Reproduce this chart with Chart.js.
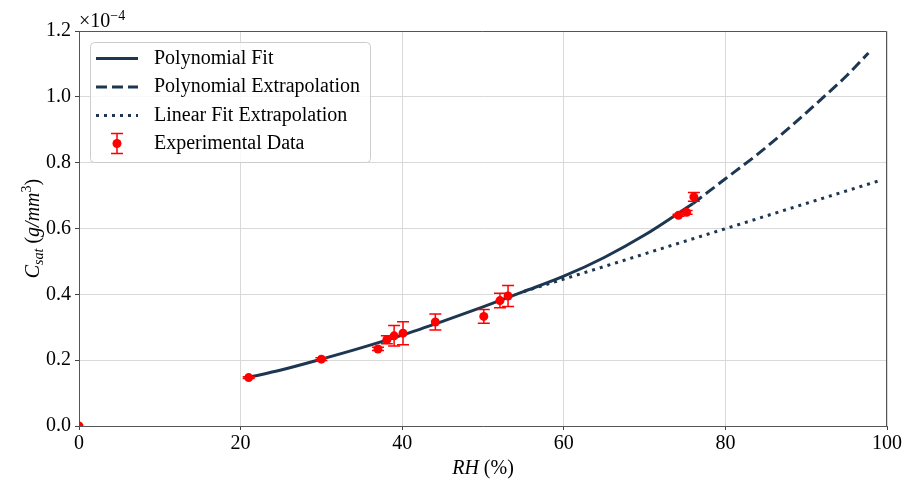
<!DOCTYPE html>
<html>
<head>
<meta charset="utf-8">
<style>
  html, body { margin: 0; padding: 0; background: #fff; }
</style>
<script src="https://cdn.jsdelivr.net/npm/chart.js@4.4.1/dist/chart.umd.min.js"></script>
</head>
<body>
<canvas id="myChart" width="905" height="481"></canvas>
<script>
// values are in units of 1e-4 g/mm^3
const rhFit = [21, 25, 30, 35, 40, 45, 50, 55, 60, 65, 70, 76];
const cFit = [0.148, 0.170, 0.203, 0.238, 0.276, 0.318, 0.362, 0.408, 0.455, 0.512, 0.580, 0.676];

const rhPolyExt = [76, 80, 84, 88, 92, 95, 97.7];
const cPolyExt = [0.676, 0.751, 0.826, 0.908, 0.996, 1.064, 1.133];

const rhLinExt = [55, 99];
const cLinExt = [0.408, 0.745];

const rhExp = [0, 21, 30, 37, 38.1, 39, 40.1, 44.1, 50.1, 52.1, 53.1, 74.2, 75.2, 76.1];
const cExp = [0, 0.147, 0.203, 0.234, 0.262, 0.274, 0.282, 0.316, 0.333, 0.381, 0.395, 0.640, 0.649, 0.696];
const cErr = [0, 0.003, 0.004, 0.005, 0.012, 0.031, 0.035, 0.024, 0.021, 0.022, 0.032, 0.003, 0.006, 0.013];

const xTicks = [0, 20, 40, 60, 80, 100];
const yTicks = [0.0, 0.2, 0.4, 0.6, 0.8, 1.0, 1.2];

const legendLabels = ["Polynomial Fit", "Polynomial Extrapolation", "Linear Fit Extrapolation", "Experimental Data"];

const SERIF = "'Liberation Serif', 'DejaVu Serif', serif";
const NAVY = "#1d3652";
const RED = "#ff0000";

const toPoints = (xs, ys) => xs.map((x, i) => ({ x: x, y: ys[i] }));

function drawErrorBar(ctx, px, pyLo, pyHi, cap) {
  ctx.beginPath();
  ctx.moveTo(px, pyLo);
  ctx.lineTo(px, pyHi);
  ctx.moveTo(px - cap, pyLo);
  ctx.lineTo(px + cap, pyLo);
  ctx.moveTo(px - cap, pyHi);
  ctx.lineTo(px + cap, pyHi);
  ctx.stroke();
}

// error bars go under the red markers but over the fit lines
const errorBars = {
  id: "errorBars",
  beforeDatasetDraw(chart, args) {
    if (args.index !== 3) return;
    const { ctx, chartArea: a } = chart;
    const x = chart.scales.x, y = chart.scales.y;
    ctx.save();
    ctx.beginPath();
    ctx.rect(a.left, a.top, a.right - a.left, a.bottom - a.top);
    ctx.clip();
    ctx.strokeStyle = RED;
    ctx.lineWidth = 1.5;
    rhExp.forEach((rh, i) => {
      if (!cErr[i]) return;
      const px = x.getPixelForValue(rh);
      drawErrorBar(ctx, px, y.getPixelForValue(cExp[i] - cErr[i]), y.getPixelForValue(cExp[i] + cErr[i]), 6);
    });
    ctx.restore();
  }
};

function drawPieces(ctx, pieces, startX, baseY) {
  let cx = startX;
  pieces.forEach(p => {
    ctx.font = (p.italic ? "italic " : "") + p.size + "px " + SERIF;
    ctx.fillText(p.t, cx, baseY + (p.dy || 0));
    cx += ctx.measureText(p.t).width;
  });
}

function piecesWidth(ctx, pieces) {
  let w = 0;
  pieces.forEach(p => {
    ctx.font = (p.italic ? "italic " : "") + p.size + "px " + SERIF;
    w += ctx.measureText(p.t).width;
  });
  return w;
}

const decorations = {
  id: "decorations",
  afterDraw(chart) {
    const { ctx, chartArea: a } = chart;
    ctx.save();

    // top and right spines
    ctx.strokeStyle = "#555";
    ctx.lineWidth = 1;
    ctx.beginPath();
    ctx.moveTo(a.left, a.top + 0.5);
    ctx.lineTo(a.right - 0.5, a.top + 0.5);
    ctx.lineTo(a.right - 0.5, a.bottom);
    ctx.stroke();

    // legend
    ctx.beginPath();
    ctx.roundRect(90.5, 42.5, 280, 120, 4);
    ctx.fillStyle = "rgba(255,255,255,0.8)";
    ctx.fill();
    ctx.strokeStyle = "#cccccc";
    ctx.stroke();

    const rows = [58.5, 87, 115.5, 143.5];
    const dashes = [[], [11, 5], [3, 5]];
    ctx.strokeStyle = NAVY;
    ctx.lineWidth = 3;
    ctx.lineCap = "butt";
    for (let i = 0; i < 3; i++) {
      ctx.setLineDash(dashes[i]);
      ctx.beginPath();
      ctx.moveTo(96, rows[i]);
      ctx.lineTo(138, rows[i]);
      ctx.stroke();
    }
    ctx.setLineDash([]);
    ctx.strokeStyle = RED;
    ctx.lineWidth = 1.5;
    drawErrorBar(ctx, 117, rows[3] + 10, rows[3] - 10, 6);
    ctx.fillStyle = RED;
    ctx.beginPath();
    ctx.arc(117, rows[3], 4.5, 0, Math.PI * 2);
    ctx.fill();

    ctx.fillStyle = "#000";
    ctx.font = "20px " + SERIF;
    ctx.textBaseline = "middle";
    legendLabels.forEach((t, i) => ctx.fillText(t, 154, rows[i]));

    // exponent label
    ctx.textBaseline = "alphabetic";
    drawPieces(ctx, [
      { t: "\u00d710", size: 20 },
      { t: "\u22124", size: 14, dy: -7 }
    ], 79, 27);

    // x axis title
    const xt = [
      { t: "RH", size: 20, italic: true },
      { t: " (%)", size: 20 }
    ];
    const cxMid = (a.left + a.right) / 2;
    drawPieces(ctx, xt, cxMid - piecesWidth(ctx, xt) / 2, 474);

    // y axis title
    const yt = [
      { t: "C", size: 20, italic: true },
      { t: "sat", size: 14, italic: true, dy: 4 },
      { t: " (", size: 20 },
      { t: "g/mm", size: 20, italic: true },
      { t: "3", size: 14, dy: -8 },
      { t: ")", size: 20 }
    ];
    ctx.translate(32, (a.top + a.bottom) / 2);
    ctx.rotate(-Math.PI / 2);
    drawPieces(ctx, yt, -piecesWidth(ctx, yt) / 2, 7);

    ctx.restore();
  }
};

const tickFont = { family: SERIF, size: 20 };

const config = {
  type: "scatter",
  data: {
    datasets: [
      {
        label: legendLabels[0],
        data: toPoints(rhFit, cFit),
        showLine: true,
        borderColor: NAVY,
        borderWidth: 3,
        pointRadius: 0,
        cubicInterpolationMode: "monotone",
        order: 2
      },
      {
        label: legendLabels[1],
        data: toPoints(rhPolyExt, cPolyExt),
        showLine: true,
        borderColor: NAVY,
        borderWidth: 3,
        borderDash: [11, 5],
        pointRadius: 0,
        cubicInterpolationMode: "monotone",
        order: 2
      },
      {
        label: legendLabels[2],
        data: toPoints(rhLinExt, cLinExt),
        showLine: true,
        borderColor: NAVY,
        borderWidth: 3,
        borderDash: [3, 5],
        pointRadius: 0,
        order: 2
      },
      {
        label: legendLabels[3],
        data: toPoints(rhExp, cExp),
        showLine: false,
        backgroundColor: RED,
        borderColor: RED,
        pointRadius: 4.5,
        borderWidth: 0,
        clip: 0,
        order: 1
      }
    ]
  },
  options: {
    responsive: false,
    animation: false,
    layout: { padding: { top: 31, right: 18, left: 0, bottom: 0 } },
    plugins: {
      legend: { display: false },
      tooltip: { enabled: false },
      title: { display: false }
    },
    scales: {
      x: {
        type: "linear",
        min: xTicks[0],
        max: xTicks[xTicks.length - 1],
        afterBuildTicks: (s) => { s.ticks = xTicks.map(v => ({ value: v })); },
        afterFit: (s) => { s.height = 55; },
        ticks: { color: "#000", font: tickFont, padding: 2, maxRotation: 0 },
        grid: { color: "#d9d9d9", tickColor: "#444", tickLength: 4 },
        border: { color: "#555" }
      },
      y: {
        min: yTicks[0],
        max: yTicks[yTicks.length - 1],
        afterBuildTicks: (s) => { s.ticks = yTicks.map(v => ({ value: v })); },
        afterFit: (s) => { s.width = 79; },
        ticks: { color: "#000", font: tickFont, padding: 4, callback: (v) => v.toFixed(1) },
        grid: { color: "#d9d9d9", tickColor: "#444", tickLength: 4 },
        border: { color: "#555" }
      }
    }
  },
  plugins: [errorBars, decorations]
};

const myChart = new Chart(document.getElementById("myChart").getContext("2d"), config);
</script>
</body>
</html>
